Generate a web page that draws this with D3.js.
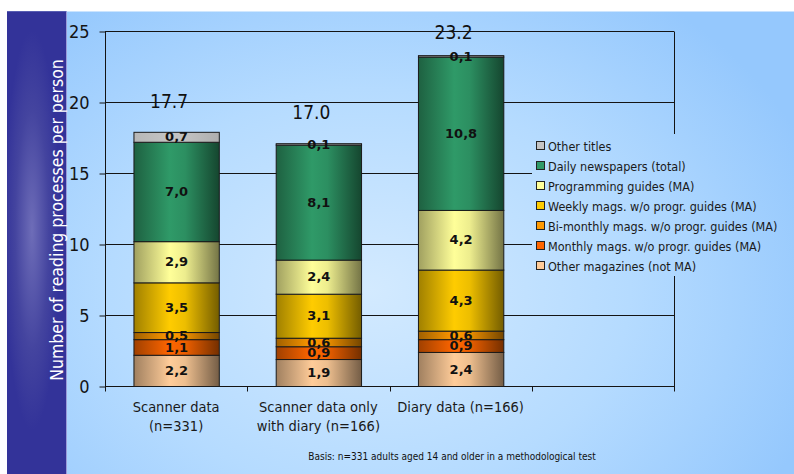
<!DOCTYPE html>
<html>
<head>
<meta charset="utf-8">
<script src="https://cdn.jsdelivr.net/npm/d3@7"></script>
<style>
  html, body { margin: 0; padding: 0; background: #ffffff; }
  svg { display: block; }
  .cond { font-family: "DejaVu Sans Condensed", "DejaVu Sans", sans-serif; font-stretch: condensed; }
</style>
</head>
<body>
<svg id="chart" width="794" height="474"></svg>
<script>
// ---------------- data ----------------
const categories = ["Scanner data\n(n=331)", "Scanner data only\nwith diary (n=166)", "Diary data (n=166)", ""];
const seriesNames = [
  "Other magazines (not MA)",
  "Monthly mags. w/o progr. guides (MA)",
  "Bi-monthly mags. w/o progr. guides (MA)",
  "Weekly mags. w/o progr. guides (MA)",
  "Programming guides (MA)",
  "Daily newspapers (total)",
  "Other titles"
];
// values per series, one per bar (first three categories)
const otherMagazines = [2.2, 1.9, 2.4];
const monthlyMags    = [1.1, 0.9, 0.9];
const bimonthlyMags  = [0.5, 0.6, 0.6];
const weeklyMags     = [3.5, 3.1, 4.3];
const programGuides  = [2.9, 2.4, 4.2];
const dailyPapers    = [7.0, 8.1, 10.8];
const otherTitles    = [0.7, 0.1, 0.1];
const totals         = [17.7, 17.0, 23.2];
const yTicks         = [0, 5, 10, 15, 20, 25];
const yLabel   = "Number of reading processes per person";
const footnote = "Basis: n=331 adults aged 14 and older in a methodological test";

// ---------------- styles ----------------
const seriesColors = ["#ffcc99", "#ff6600", "#ff9900", "#ffcc00", "#ffff99", "#2f9a68", "#c4c4c4"];
const shadeStrength = [1, 1, 1, 1, 1, 1, 0.15];

const seriesValues = [otherMagazines, monthlyMags, bimonthlyMags, weeklyMags, programGuides, dailyPapers, otherTitles];

const W = 794, H = 474;
const plot = { left: 105, right: 674, top: 31, bottom: 386 };

const svg = d3.select("#chart");
const defs = svg.append("defs");

// background gradient
const bg = defs.append("radialGradient").attr("id", "bg")
  .attr("gradientUnits", "userSpaceOnUse")
  .attr("cx", 370).attr("cy", 290).attr("r", 430)
  .attr("gradientTransform", "translate(370,290) scale(1.1,0.85) translate(-370,-290)");
bg.append("stop").attr("offset", 0).attr("stop-color", "#d3eaff");
bg.append("stop").attr("offset", 0.55).attr("stop-color", "#b5dbff");
bg.append("stop").attr("offset", 1).attr("stop-color", "#95c8fd");

const strip = defs.append("radialGradient").attr("id", "strip")
  .attr("gradientUnits", "userSpaceOnUse")
  .attr("cx", 32).attr("cy", 230).attr("r", 200)
  .attr("gradientTransform", "translate(32,230) scale(0.14,1) translate(-32,-230)");
strip.append("stop").attr("offset", 0).attr("stop-color", "#6e6db8");
strip.append("stop").attr("offset", 0.6).attr("stop-color", "#44449f");
strip.append("stop").attr("offset", 1).attr("stop-color", "#333399");

// bar gradients
seriesColors.forEach((c, i) => {
  const s = shadeStrength[i];
  const g = defs.append("linearGradient").attr("id", "g" + i)
    .attr("x1", 0).attr("x2", 1).attr("y1", 0).attr("y2", 0);
  const base = d3.color(c);
  g.append("stop").attr("offset", 0).attr("stop-color", base.darker(1.3 * s).formatHex());
  g.append("stop").attr("offset", 0.42).attr("stop-color", base.formatHex());
  g.append("stop").attr("offset", 0.6).attr("stop-color", base.darker(0.2 * s).formatHex());
  g.append("stop").attr("offset", 1).attr("stop-color", base.darker(2.2 * s).formatHex());
});

// panels
svg.append("rect").attr("x", 7).attr("y", 11.5).attr("width", W - 7).attr("height", H - 11.5).attr("fill", "url(#bg)");
svg.append("rect").attr("x", 7).attr("y", 11.5).attr("width", 59.5).attr("height", H - 11.5).attr("fill", "#333399");
svg.append("rect").attr("x", 7).attr("y", 11.5).attr("width", 59.5).attr("height", H - 11.5).attr("fill", "url(#strip)");
svg.append("line").attr("x1", 66.5).attr("x2", 66.5).attr("y1", 11.5).attr("y2", H)
  .attr("stroke", "#9a9ad8").attr("stroke-width", 1);

// scales
const x = d3.scaleBand().domain(categories).range([plot.left, plot.right])
  .paddingInner(0.4).paddingOuter(0.2);
const y = d3.scaleLinear().domain([0, 25]).range([plot.bottom, plot.top]);

const ink = "#141414";

// gridlines
svg.append("g").selectAll("line").data(yTicks).join("line")
  .attr("x1", plot.left).attr("x2", plot.right)
  .attr("y1", d => Math.round(y(d)) + 0.5).attr("y2", d => Math.round(y(d)) + 0.5)
  .attr("stroke", ink).attr("stroke-width", 1);

// right border
svg.append("line").attr("x1", plot.right + 0.5).attr("x2", plot.right + 0.5)
  .attr("y1", Math.round(y(25)) + 0.5).attr("y2", plot.bottom + 5.5)
  .attr("stroke", ink);

// y axis
const yAxis = svg.append("g").attr("transform", `translate(${plot.left + 0.5},0.5)`)
  .call(d3.axisLeft(y).tickValues(yTicks).tickSize(6).tickPadding(10).tickSizeOuter(0));
yAxis.select(".domain").remove();
yAxis.selectAll("line").attr("stroke", ink);
yAxis.selectAll("text").attr("class", "cond").attr("font-size", 18).attr("fill", ink);
svg.append("line").attr("x1", plot.left + 0.5).attr("x2", plot.left + 0.5)
  .attr("y1", Math.round(y(25))).attr("y2", plot.bottom + 5.5).attr("stroke", ink);

// x ticks at band boundaries
const step = x.step();
const boundaries = categories.map(c => x(c) - step * x.paddingInner() / 2).concat([plot.right]);
svg.append("g").selectAll("line").data(boundaries.slice(1, -1)).join("line")
  .attr("x1", d => Math.round(d) + 0.5).attr("x2", d => Math.round(d) + 0.5)
  .attr("y1", plot.bottom).attr("y2", plot.bottom + 5.5).attr("stroke", ink);

// stacked bars
const barData = categories.slice(0, totals.length).map((c, j) => {
  const row = { cat: c, j };
  seriesNames.forEach((s, i) => row[s] = seriesValues[i][j]);
  return row;
});
const stack = d3.stack().keys(seriesNames)(barData);

const barsG = svg.append("g");
stack.forEach((layer, i) => {
  barsG.append("g").selectAll("rect").data(layer).join("rect")
    .attr("x", d => x(d.data.cat) + 0.5)
    .attr("width", x.bandwidth())
    .attr("y", d => y(d[1]) + 0.5)
    .attr("height", d => Math.max(0.5, y(d[0]) - y(d[1])))
    .attr("fill", `url(#g${i})`)
    .attr("stroke", "#1a1a1a").attr("stroke-width", 1);
});

// segment labels
const fmt = v => d3.format(".1f")(v).replace(".", ",");
stack.forEach((layer, i) => {
  barsG.append("g").selectAll("text").data(layer).join("text")
    .attr("x", d => x(d.data.cat) + x.bandwidth() / 2 + 0.5)
    .attr("y", d => (y(d[0]) + y(d[1])) / 2)
    .attr("dy", "0.36em")
    .attr("text-anchor", "middle")
    .attr("font-family", "'DejaVu Sans', sans-serif")
    .attr("font-weight", "bold").attr("font-size", 13)
    .attr("fill", "#111")
    .text(d => fmt(d[1] - d[0]));
});

// totals
svg.append("g").selectAll("text").data(totals).join("text")
  .attr("class", "cond")
  .attr("x", (d, j) => x(categories[j]) + x.bandwidth() / 2 - 7)
  .attr("y", (d, j) => Math.max(y(d3.sum(seriesValues, s => s[j])) - 24, y(25) + 8))
  .attr("text-anchor", "middle").attr("font-size", 19).attr("fill", "#111")
  .text(d => d3.format(".1f")(d));

// category labels
categories.forEach(c => {
  const lines = c ? c.split("\n") : [];
  const t = svg.append("text").attr("class", "cond")
    .attr("text-anchor", "middle").attr("font-size", 14.5).attr("fill", "#1a1a1a");
  lines.forEach((ln, k) => {
    t.append("tspan").attr("x", x(c) + x.bandwidth() / 2).attr("y", 412 + k * 19).text(ln);
  });
});

// y label
svg.append("text").attr("class", "cond")
  .attr("transform", "translate(63,220) rotate(-90)")
  .attr("text-anchor", "middle").attr("font-size", 17.5).attr("fill", "#ffffff")
  .text(yLabel);

// legend
const lg = svg.append("g");
lg.append("rect").attr("x", 532).attr("y", 134).attr("width", 262).attr("height", 142).attr("fill", "url(#bg)");
const legendOrder = seriesNames.map((s, i) => i).reverse();
legendOrder.forEach((i, k) => {
  const cy = 146 + k * 20;
  lg.append("rect").attr("x", 536.5).attr("y", cy - 4.5).attr("width", 8).attr("height", 8)
    .attr("fill", seriesColors[i]).attr("stroke", "#222").attr("stroke-width", 1);
  lg.append("text").attr("class", "cond").attr("x", 548).attr("y", cy).attr("dy", "0.36em")
    .attr("font-size", 12.5).attr("fill", "#1a1a1a").text(seriesNames[i]);
});

// footnote
svg.append("text").attr("class", "cond").attr("x", 452).attr("y", 460)
  .attr("text-anchor", "middle").attr("font-size", 10).attr("fill", "#111")
  .text(footnote);
</script>
</body>
</html>
